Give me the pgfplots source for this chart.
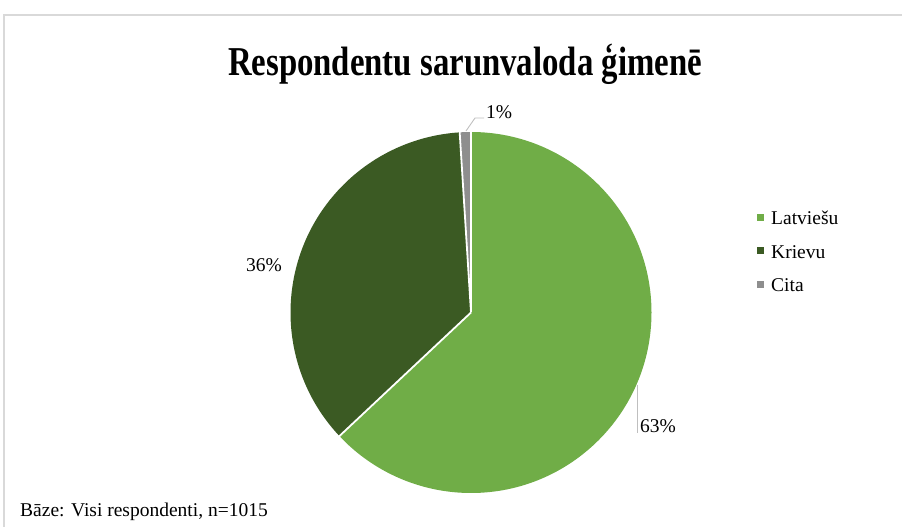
\documentclass[border=0pt]{standalone}
\usepackage{pgfplots}
\pgfplotsset{compat=1.18}
\usepackage{fontspec}
\setmainfont{Liberation Serif}
\usepackage{graphicx}
\definecolor{latv}{HTML}{70AD47}
\definecolor{kriev}{HTML}{3B5A23}
\definecolor{cita}{HTML}{8E8E8E}
\definecolor{lead}{HTML}{BFBFBF}
% values (percent)
\def\vL{63}\def\vK{36}\def\vC{1}
\pgfmathsetmacro{\aA}{90}
\pgfmathsetmacro{\aB}{90-3.6*\vL}
\pgfmathsetmacro{\aC}{\aB-3.6*\vK}
\pgfmathsetmacro{\aD}{\aC-3.6*\vC}
\def\R{180.5pt}
\begin{document}
\begin{tikzpicture}
\path[use as bounding box] (0,0) rectangle (902pt,527pt);
\begin{axis}[at={(0pt,0pt)}, anchor=south west, width=902pt, height=527pt,
  scale only axis, xmin=0, xmax=902, ymin=0, ymax=527, hide axis, clip=false]
\fill[latv] (axis cs:471,214.5) -- ++(\aA:\R) arc[start angle=\aA, end angle=\aB, radius=\R] -- cycle;
\fill[kriev] (axis cs:471,214.5) -- ++(\aB:\R) arc[start angle=\aB, end angle=\aC, radius=\R] -- cycle;
\fill[cita] (axis cs:471,214.5) -- ++(\aC:\R) arc[start angle=\aC, end angle=\aD, radius=\R] -- cycle;
\draw[white, line width=1.8pt] (axis cs:471,214.5) -- ++(\aA:181.5pt);
\draw[white, line width=1.8pt] (axis cs:471,214.5) -- ++(\aB:181.5pt);
\draw[white, line width=1.8pt] (axis cs:471,214.5) -- ++(\aC:181.5pt);
% border
\draw[black!15, line width=1.2pt] (axis cs:4,0) -- (axis cs:4,512) -- (axis cs:902,512);
% title
\node[anchor=base, inner sep=0] at (axis cs:465,451) {\scalebox{0.8}[1]{\fontsize{41}{45}\selectfont\bfseries Respondentu sarunvaloda ģimenē}};
% data labels
\draw[lead, line width=0.9pt] (axis cs:466,396) -- (axis cs:475,409) -- (axis cs:484,409);
\node[anchor=base west, inner sep=0] at (axis cs:486,408) {\fontsize{19.5}{22}\selectfont 1\%};
\node[anchor=base west, inner sep=0] at (axis cs:246,255) {\fontsize{19.5}{22}\selectfont 36\%};
\draw[lead, line width=0.9pt] (axis cs:637,142) -- (axis cs:637,94);
\node[anchor=base west, inner sep=0] at (axis cs:640,94) {\fontsize{19.5}{22}\selectfont 63\%};
% legend
\fill[latv] (axis cs:757,306) rectangle (axis cs:764,313);
\node[anchor=base west, inner sep=0] at (axis cs:771,302) {\fontsize{19.5}{22}\selectfont Latviešu};
\fill[kriev] (axis cs:757,272.5) rectangle (axis cs:764,279.5);
\node[anchor=base west, inner sep=0] at (axis cs:771,268.5) {\fontsize{19.5}{22}\selectfont Krievu};
\fill[cita] (axis cs:757,239) rectangle (axis cs:764,246);
\node[anchor=base west, inner sep=0] at (axis cs:771,235) {\fontsize{19.5}{22}\selectfont Cita};
% footer
\node[anchor=base west, inner sep=0] at (axis cs:20,10) {\fontsize{19.5}{22}\selectfont Bāze: Visi respondenti, n=1015};
\end{axis}
\end{tikzpicture}
\end{document}
